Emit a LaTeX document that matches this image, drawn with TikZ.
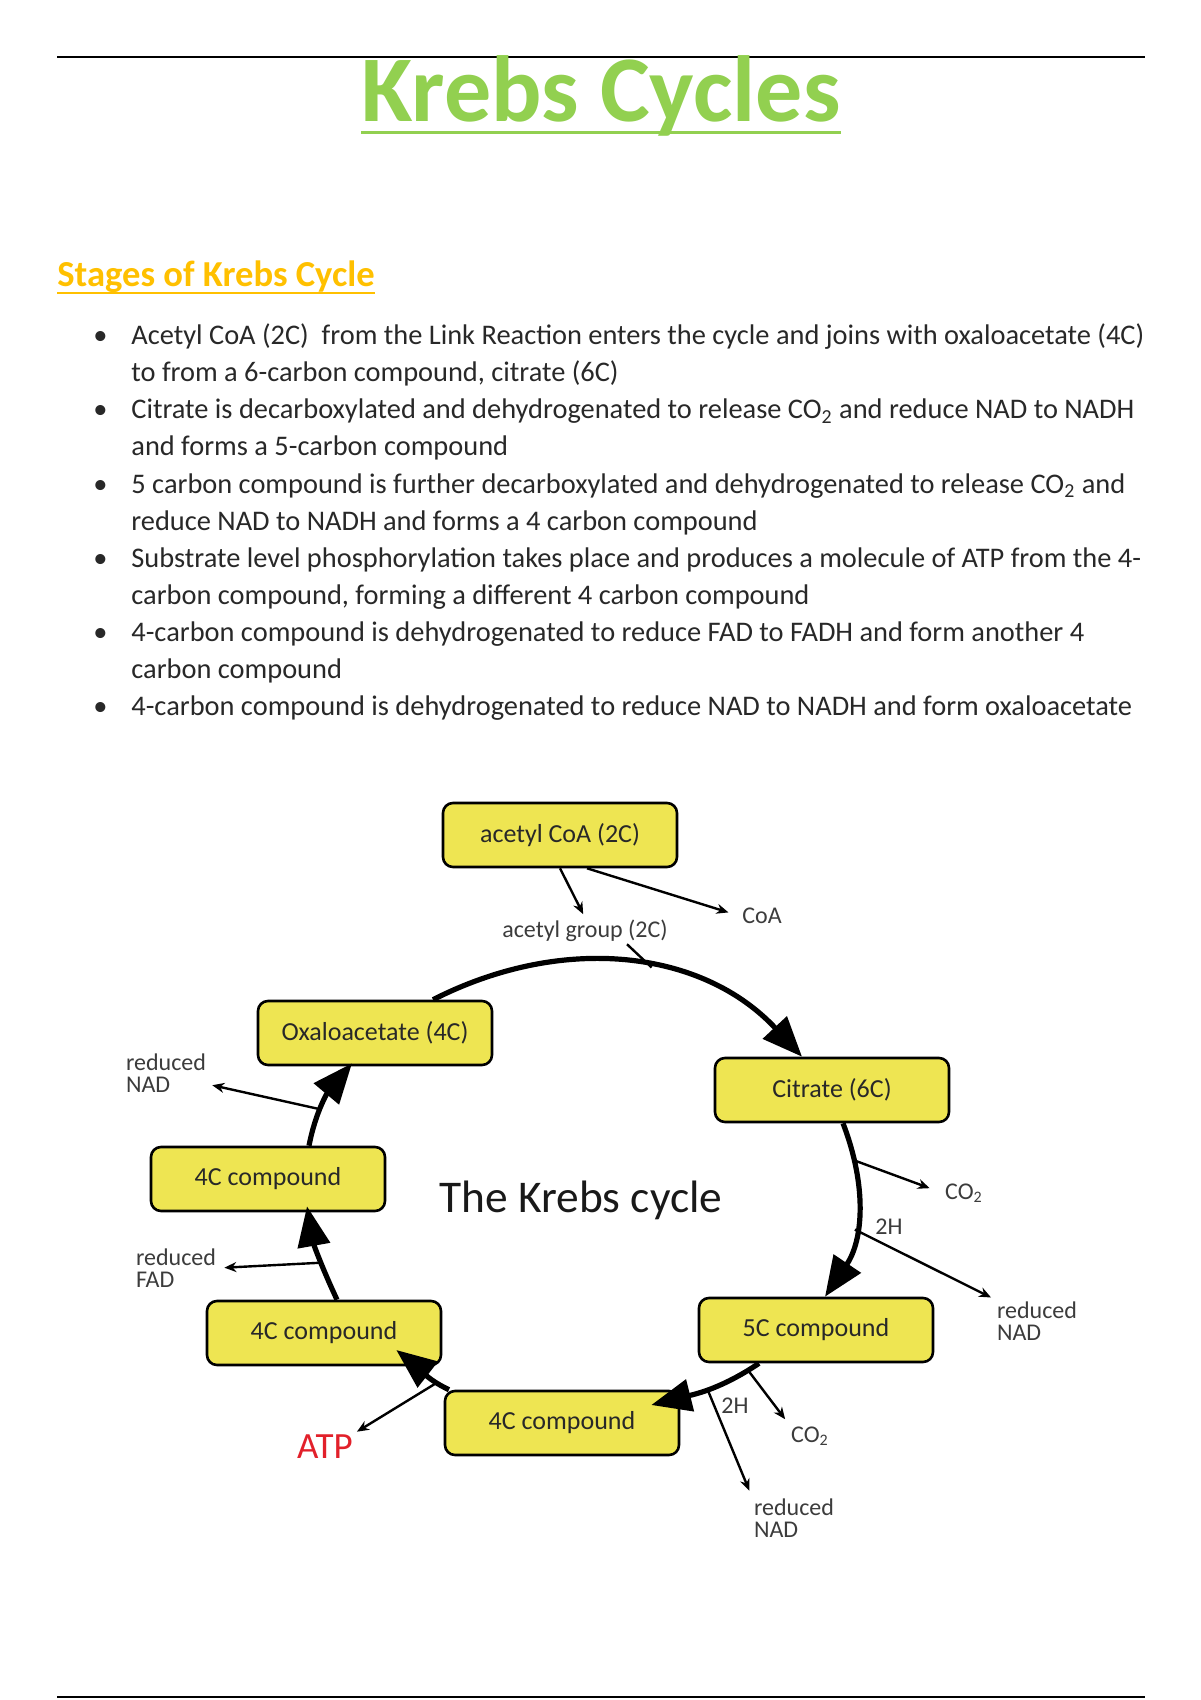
\documentclass[tikz,border=0pt]{standalone}
\usepackage{fontspec}
\setmainfont{Carlito}
\usepackage{tikz}
\usetikzlibrary{arrows.meta,calc}

\definecolor{titlegreen}{RGB}{146,208,80}
\definecolor{headgold}{RGB}{255,192,0}
\definecolor{boxyellow}{RGB}{238,229,82}
\definecolor{atpred}{RGB}{226,32,42}
\definecolor{txtgray}{RGB}{40,40,40}
\definecolor{lblgray}{RGB}{60,60,60}

\begin{document}
\begin{tikzpicture}[x=0.5pt,y=0.5pt,
  stage/.style={draw=black, line width=1.3pt, fill=boxyellow, rounded corners=5pt,
    minimum width=117pt, minimum height=32pt, inner sep=0pt,
    font=\fontsize{13}{15}\selectfont, text=txtgray},
  lbl/.style={font=\fontsize{12}{11}\selectfont, text=lblgray, align=left, inner sep=1pt},
  cyc/.style={line width=2.6pt, -{Triangle[length=20pt,width=16pt]}},
  side/.style={line width=1.2pt, -{Stealth[length=6pt,width=5pt]}},
  bul/.style={anchor=base west, inner sep=0pt, font=\fontsize{14.2}{17}\selectfont, text=txtgray}]

\fill[white] (0,0) rectangle (1200,-1700);
\useasboundingbox (0,0) rectangle (1200,-1700);

% page rules
\draw[line width=1pt] (57,-57) -- (1145,-57);
\draw[line width=1pt] (57,-1697) -- (1145,-1697);

% title and heading
\node[anchor=base, inner sep=0pt, text=titlegreen, font=\fontsize{47}{56}\selectfont\bfseries] (title) at (601,-122) {Krebs Cycles};
\draw[titlegreen, line width=1.5pt] ($(title.base west)+(0,-11)$) -- ($(title.base east)+(0,-11)$);

\node[anchor=base west, inner sep=0pt, text=headgold, font=\fontsize{18.3}{22}\selectfont\bfseries] (stages) at (57,-287) {Stages of Krebs Cycle};
\draw[headgold, line width=1pt] ($(stages.base west)+(0,-6)$) -- ($(stages.base east)+(0,-6)$);

% bullet list
\foreach \k in {0,2,4,6,8,10}
  \node[bul] at (93,-345-37*\k) {\textbullet};
\foreach \k/\line in {
  0/{Acetyl CoA (2C) \ from the Link Reaction enters the cycle and joins with oxaloacetate (4C)},
  1/{to from a 6-carbon compound, citrate (6C)},
  2/{Citrate is decarboxylated and dehydrogenated to release CO\textsubscript{2} and reduce NAD to NADH},
  3/{and forms a 5-carbon compound},
  4/{5 carbon compound is further decarboxylated and dehydrogenated to release CO\textsubscript{2} and},
  5/{reduce NAD to NADH and forms a 4 carbon compound},
  6/{Substrate level phosphorylation takes place and produces a molecule of ATP from the 4-},
  7/{carbon compound, forming a different 4 carbon compound},
  8/{4-carbon compound is dehydrogenated to reduce FAD to FADH and form another 4},
  9/{carbon compound},
  10/{4-carbon compound is dehydrogenated to reduce NAD to NADH and form oxaloacetate}}
  \node[bul] (line\k) at (131,-345-37*\k) {\line};

% compounds
\node[stage] (acetyl) at (560,-835) {acetyl CoA (2C)};
\node[stage] (oxalo) at (375,-1033) {Oxaloacetate (4C)};
\node[stage] (citrate) at (832,-1090) {Citrate (6C)};
\node[stage] (upper4c) at (268,-1179) {4C compound};
\node[stage] (lower4c) at (324,-1333) {4C compound};
\node[stage] (five) at (816,-1330) {5C compound};
\node[stage] (bottom4c) at (562,-1423) {4C compound};

\node[font=\fontsize{22.7}{26}\selectfont, text=black!90] (krebs) at (581,-1200) {The Krebs cycle};

% side products
\node[lbl] (accgrp) at (585,-931) {acetyl group (2C)};
\node[lbl] (coa) at (762,-916) {CoA};
\node[lbl] (co2a) at (964,-1193) {CO\textsubscript{2}};
\node[lbl] (h2a) at (889,-1227) {2H};
\node[lbl] (nada) at (1037,-1321) {reduced\\NAD};
\node[lbl] (co2b) at (810,-1436) {CO\textsubscript{2}};
\node[lbl] (h2b) at (735,-1406) {2H};
\node[lbl] (nadb) at (794,-1518) {reduced\\NAD};
\node[font=\fontsize{18.5}{22}\selectfont, text=atpred, inner sep=1pt] (atp) at (325,-1447) {ATP};
\node[lbl] (fad) at (176,-1268) {reduced\\FAD};
\node[lbl] (nadc) at (166,-1073) {reduced\\NAD};

% the cycle
\draw[cyc] ($(oxalo.north)+(58,0)$) to[out=27,in=133] coordinate[pos=0.56] (join) ($(citrate.north)+(-30,0)$);
\draw[cyc] ($(citrate.south)+(11,0)$) to[out=-69,in=56] coordinate[pos=0.2] (relco2a) coordinate[pos=0.6] (relh2a) ($(five.north)+(9,0)$);
\draw[cyc] ($(five.south)+(-57,0)$) to[out=-146,in=14] coordinate[pos=0.1] (relco2b) coordinate[pos=0.5] (relh2b) ($(bottom4c.east)+(-29,18)$);
\draw[cyc] ($(bottom4c.north)+(-113,0)$) to[out=155,in=-38] coordinate[pos=0.2] (relatp) ($(lower4c.east)+(-46,-17)$);
\draw[cyc] ($(lower4c.north)+(13,0)$) to[out=115,in=-80] coordinate[pos=0.4] (relfad) ($(upper4c.south)+(39,6)$);
\draw[cyc] ($(upper4c.north)+(41,0)$) to[out=79,in=-130] coordinate[pos=0.4] (relnad) ($(oxalo.south)+(-23,3)$);

% in and out of the cycle
\draw[side, shorten >=2pt] (acetyl.south) -- (accgrp.north);
\draw[side, shorten >=6pt] ($(acetyl.south)+(27,0)$) -- (coa.west);
\draw[line width=1.2pt] ($(accgrp.south)+(42,0)$) -- (join);
\draw[side, shorten >=7pt] (relco2a) -- (co2a.west);
\draw[side, shorten >=2pt] (relh2a) -- (nada.north west);
\draw[side, shorten >=3pt] (relco2b) -- (co2b.north west);
\draw[side, shorten >=3pt] (relh2b) -- (nadb.north west);
\draw[side, shorten >=1pt] (relatp) -- (atp.north east);
\draw[side, shorten >=3pt] (relfad) -- (fad.east);
\draw[side, shorten >=2pt] (relnad) -- (nadc.-15);

\end{tikzpicture}
\end{document}
